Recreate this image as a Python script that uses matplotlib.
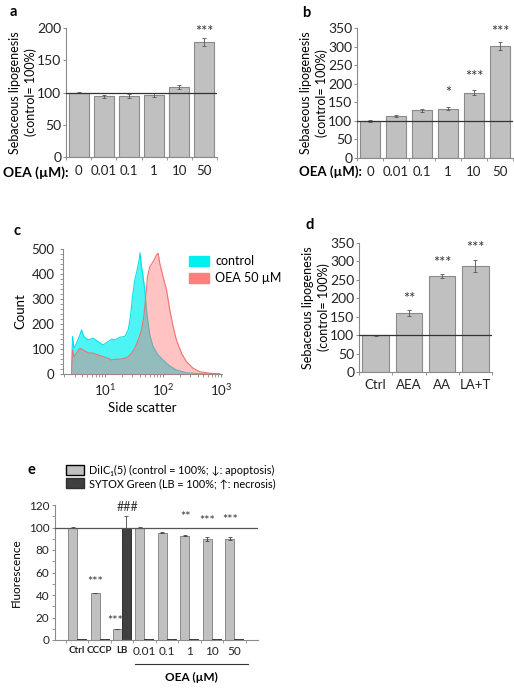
import matplotlib
matplotlib.use("Agg")
import matplotlib.pyplot as plt
from matplotlib.patches import Patch
from matplotlib.ticker import MultipleLocator, FixedLocator
import numpy as np

plt.rcParams['font.family'] = ['Lato', 'DejaVu Sans']
plt.rcParams['font.size'] = 9

BAR = '#c0c0c0'
DARK = '#404040'
EDGE = '#8a8a8a'
SPINE = '#8a8a8a'

# panel a
a_labels = ['0', '0.01', '0.1', '1', '10', '50']
a_vals = [100, 94, 95, 96, 108, 178]
a_err = [1.5, 2, 3, 3, 3, 6]
a_stars = {5: ('***', 194)}

# panel b
b_labels = ['0', '0.01', '0.1', '1', '10', '50']
b_vals = [100, 114, 128, 133, 176, 302]
b_err = [2, 3, 3, 4, 6, 10]
b_stars = {3: ('*', 175), 4: ('***', 218), 5: ('***', 339)}

# panel c - flow cytometry histograms (side scatter)
ctrl_x = [2.67, 2.77, 2.93, 3.25, 3.71, 3.96, 4.35, 5.16, 6.30, 7.68, 9.36, 11.4,
          13.0, 14.9, 18.1, 22.1, 25.3, 27.7, 30.0, 32.9, 36.1, 39.1, 40.6, 42.9,
          45.8, 48.9, 52.3, 55.8, 59.7, 68.1, 83.1, 101, 132, 172, 256, 434, 961]
ctrl_y = [0, 150, 103, 123, 156, 176, 150, 136, 143, 129, 116, 129,
          139, 136, 147, 150, 176, 229, 309, 376, 416, 456, 485, 429,
          389, 336, 256, 203, 156, 109, 76, 56, 32, 16, 5, 1, 0]
oea_x = [2.67, 2.77, 2.93, 3.25, 3.71, 4.23, 5.16, 6.30, 7.68, 9.36, 11.4, 13.0,
         14.9, 18.1, 22.1, 25.3, 28.8, 32.9, 37.6, 42.9, 47.0, 50.9, 54.4, 59.7,
         68.1, 77.9, 83.1, 88.7, 101, 116, 132, 151, 172, 210, 256, 333, 434, 646, 961]
oea_y = [0, 96, 69, 83, 103, 96, 85, 83, 76, 69, 63, 56,
         59, 59, 63, 69, 83, 103, 136, 176, 229, 309, 389, 429,
         449, 476, 483, 443, 389, 336, 256, 189, 136, 83, 49, 23, 9, 3, 0]

# panel d
d_labels = ['Ctrl', 'AEA', 'AA', 'LA+T']
d_vals = [100, 161, 261, 287]
d_err = [1, 8, 5, 17]
d_stars = {1: ('**', 198), 2: ('***', 296), 3: ('***', 336)}

# panel e
e_labels = ['Ctrl', 'CCCP', 'LB', '0.01', '0.1', '1', '10', '50']
e_dilc = [100, 42, 9.5, 100, 95.5, 92.5, 90, 90]
e_dilc_err = [0.3, 0, 0, 0.3, 0.7, 0.4, 1.6, 1.3]
e_sytox = [1.3, 1.3, 100, 1.3, 1.3, 1.3, 1.3, 1.3]
e_sytox_err = [0, 0, 10, 0, 0, 0, 0, 0]
e_marks = [('***', 0.8, 51.5), ('***', 1.69, 16.5), ('###', 2.25, 118.5),
           ('**', 4.84, 109.5), ('***', 5.8, 106), ('***', 6.8, 107)]

W, H = 514, 688
fig = plt.figure(figsize=(W / 100, H / 100), dpi=100)


def box(left, top, right, bottom):
    return [left / W, 1 - bottom / H, (right - left) / W, (bottom - top) / H]


def style(ax):
    for s in ['top', 'right']:
        ax.spines[s].set_visible(False)
    for s in ['left', 'bottom']:
        ax.spines[s].set_color(SPINE)
        ax.spines[s].set_linewidth(0.8)
    ax.tick_params(colors=SPINE, labelcolor='#222222', length=2.5, width=0.7)


def lipo_bars(ax, labels, vals, err, stars, ymax, step):
    x = np.arange(len(vals))
    ax.bar(x, vals, 0.8, color=BAR, edgecolor=EDGE, linewidth=0.8, zorder=2)
    ax.errorbar(x, vals, yerr=err, fmt='none', ecolor='#555555',
                elinewidth=0.6, capsize=1.5, capthick=0.6, zorder=3)
    ax.axhline(100, color='#333333', lw=0.9, zorder=4)
    for i, (s, y) in stars.items():
        ax.text(i, y, s, ha='center', va='center', fontsize=10.5, color='#333333')
    style(ax)
    ax.set_xlim(-0.5, len(vals) - 0.5)
    ax.set_ylim(0, ymax)
    ax.yaxis.set_major_locator(MultipleLocator(step))
    ax.set_xticks(x)
    ax.set_xticklabels(labels, fontsize=9.5)
    ax.tick_params(axis='x', length=0, pad=6)
    ax.xaxis.set_minor_locator(FixedLocator(np.arange(-0.5, len(vals), 1)))
    ax.tick_params(axis='x', which='minor', length=2, color=SPINE)
    ax.tick_params(axis='y', labelsize=10, pad=1)
    ax.set_ylabel('Sebaceous lipogenesis\n(control= 100%)', fontsize=9,
                  labelpad=0, linespacing=1.3)


# a
ax_a = fig.add_axes(box(66, 28, 217, 157))
lipo_bars(ax_a, a_labels, a_vals, a_err, a_stars, 200, 50)
ax_a.text(-0.42, -0.125, 'OEA (µM):', transform=ax_a.transAxes,
          fontsize=10, fontweight='bold', va='center', ha='left')
fig.text(10 / W, 1 - 12 / H, 'a', fontsize=10.5, fontweight='bold', va='center')

# b
ax_b = fig.add_axes(box(357, 28, 513, 158))
lipo_bars(ax_b, b_labels, b_vals, b_err, b_stars, 350, 50)
ax_b.text(-0.37, -0.105, 'OEA (µM):', transform=ax_b.transAxes,
          fontsize=9.5, fontweight='bold', va='center', ha='left')
fig.text(302 / W, 1 - 13 / H, 'b', fontsize=10.5, fontweight='bold', va='center')

# c
ax_c = fig.add_axes(box(63, 249, 222, 374))
ax_c.fill_between(ctrl_x, ctrl_y, color='#00f0f0', alpha=0.7, lw=0, zorder=2)
ax_c.plot(ctrl_x, ctrl_y, color='#00e0e8', lw=0.8, zorder=3)
ax_c.fill_between(oea_x, oea_y, color='#ff6a6a', alpha=0.4, lw=0, zorder=4)
ax_c.plot(oea_x, oea_y, color='#f07070', lw=0.8, zorder=5)
ax_c.set_xscale('log')
ax_c.set_xlim(1.9, 1050)
ax_c.set_ylim(0, 500)
style(ax_c)
ax_c.yaxis.set_major_locator(MultipleLocator(100))
ax_c.yaxis.set_minor_locator(MultipleLocator(20))
ax_c.tick_params(axis='both', which='minor', length=2, color=SPINE)
ax_c.tick_params(axis='both', labelsize=9.5)
ax_c.set_ylabel('Count', fontsize=9.5, labelpad=4)
ax_c.set_xlabel('Side scatter', fontsize=9.5, labelpad=3)
ax_c.legend(handles=[Patch(color='#00f0f0', label='control'),
                     Patch(color='#ff7f7f', label='OEA 50 µM')],
            loc='upper left', bbox_to_anchor=(0.76, 0.99), frameon=False,
            fontsize=9, handlelength=1.6, handleheight=0.9,
            handletextpad=0.5, labelspacing=0.4, borderaxespad=0)
fig.text(13 / W, 1 - 231 / H, 'c', fontsize=10.5, fontweight='bold', va='center')

# d
ax_d = fig.add_axes(box(359, 243, 492, 372))
lipo_bars(ax_d, d_labels, d_vals, d_err, d_stars, 350, 50)
ax_d.tick_params(axis='x', pad=5)
fig.text(306 / W, 1 - 225 / H, 'd', fontsize=10.5, fontweight='bold', va='center')

# e
ax_e = fig.add_axes(box(55, 505, 258, 640))
xe = np.arange(len(e_labels))
ax_e.bar(xe - 0.2, e_dilc, 0.4, color=BAR, edgecolor=EDGE, linewidth=0.7, zorder=2)
ax_e.bar(xe + 0.2, e_sytox, 0.4, color=DARK, edgecolor='#303030', linewidth=0.7, zorder=2)
ax_e.errorbar(xe - 0.2, e_dilc, yerr=e_dilc_err, fmt='none', ecolor='#444444',
              elinewidth=0.6, capsize=1.5, capthick=0.6, zorder=3)
ax_e.errorbar(xe + 0.2, e_sytox, yerr=e_sytox_err, fmt='none', ecolor='#444444',
              elinewidth=0.6, capsize=1.5, capthick=0.6, zorder=3)
ax_e.axhline(100, color='#555555', lw=0.9, zorder=4)
for s, x, y in e_marks:
    ax_e.text(x, y, s, ha='center', va='center', fontsize=9, color='#333333')
style(ax_e)
ax_e.set_xlim(-0.98, 8.05)
ax_e.set_ylim(0, 120)
ax_e.yaxis.set_major_locator(MultipleLocator(20))
ax_e.yaxis.set_minor_locator(MultipleLocator(10))
ax_e.set_xticks(xe)
ax_e.set_xticklabels(e_labels, fontsize=8.5)
for lbl in ax_e.get_xticklabels()[:3]:
    lbl.set_fontweight('bold')
    lbl.set_fontsize(7)
ax_e.tick_params(axis='x', length=0, pad=4)
ax_e.xaxis.set_minor_locator(FixedLocator(np.arange(-0.5, 8.6, 1)))
ax_e.tick_params(axis='both', which='minor', length=2, color=SPINE)
ax_e.tick_params(axis='y', labelsize=8.5, pad=1.5)
ax_e.set_ylabel('Fluorescence', fontsize=8.5, labelpad=5)
trans = ax_e.get_xaxis_transform()
ax_e.plot([2.6, 7.6], [-0.178, -0.178], color='#333333', lw=0.8,
          transform=trans, clip_on=False)
ax_e.text(5.1, -0.275, 'OEA (µM)', transform=trans, ha='center', va='center',
          fontsize=8.5, fontweight='bold')
ax_e.legend(handles=[Patch(facecolor=BAR, edgecolor='black', lw=1.0,
                           label='DiIC₁(5) (control = 100%; ↓: apoptosis)'),
                     Patch(facecolor=DARK, edgecolor='#303030',
                           label='SYTOX Green (LB = 100%; ↑: necrosis)')],
            loc='upper left', bbox_to_anchor=(0.035, 1.33), frameon=False,
            fontsize=7.8, handlelength=1.6, handleheight=1.0,
            handletextpad=0.5, labelspacing=0.2, borderaxespad=0)
fig.text(27 / W, 1 - 470 / H, 'e', fontsize=10.5, fontweight='bold', va='center')

fig.savefig('out.png', dpi=100)
